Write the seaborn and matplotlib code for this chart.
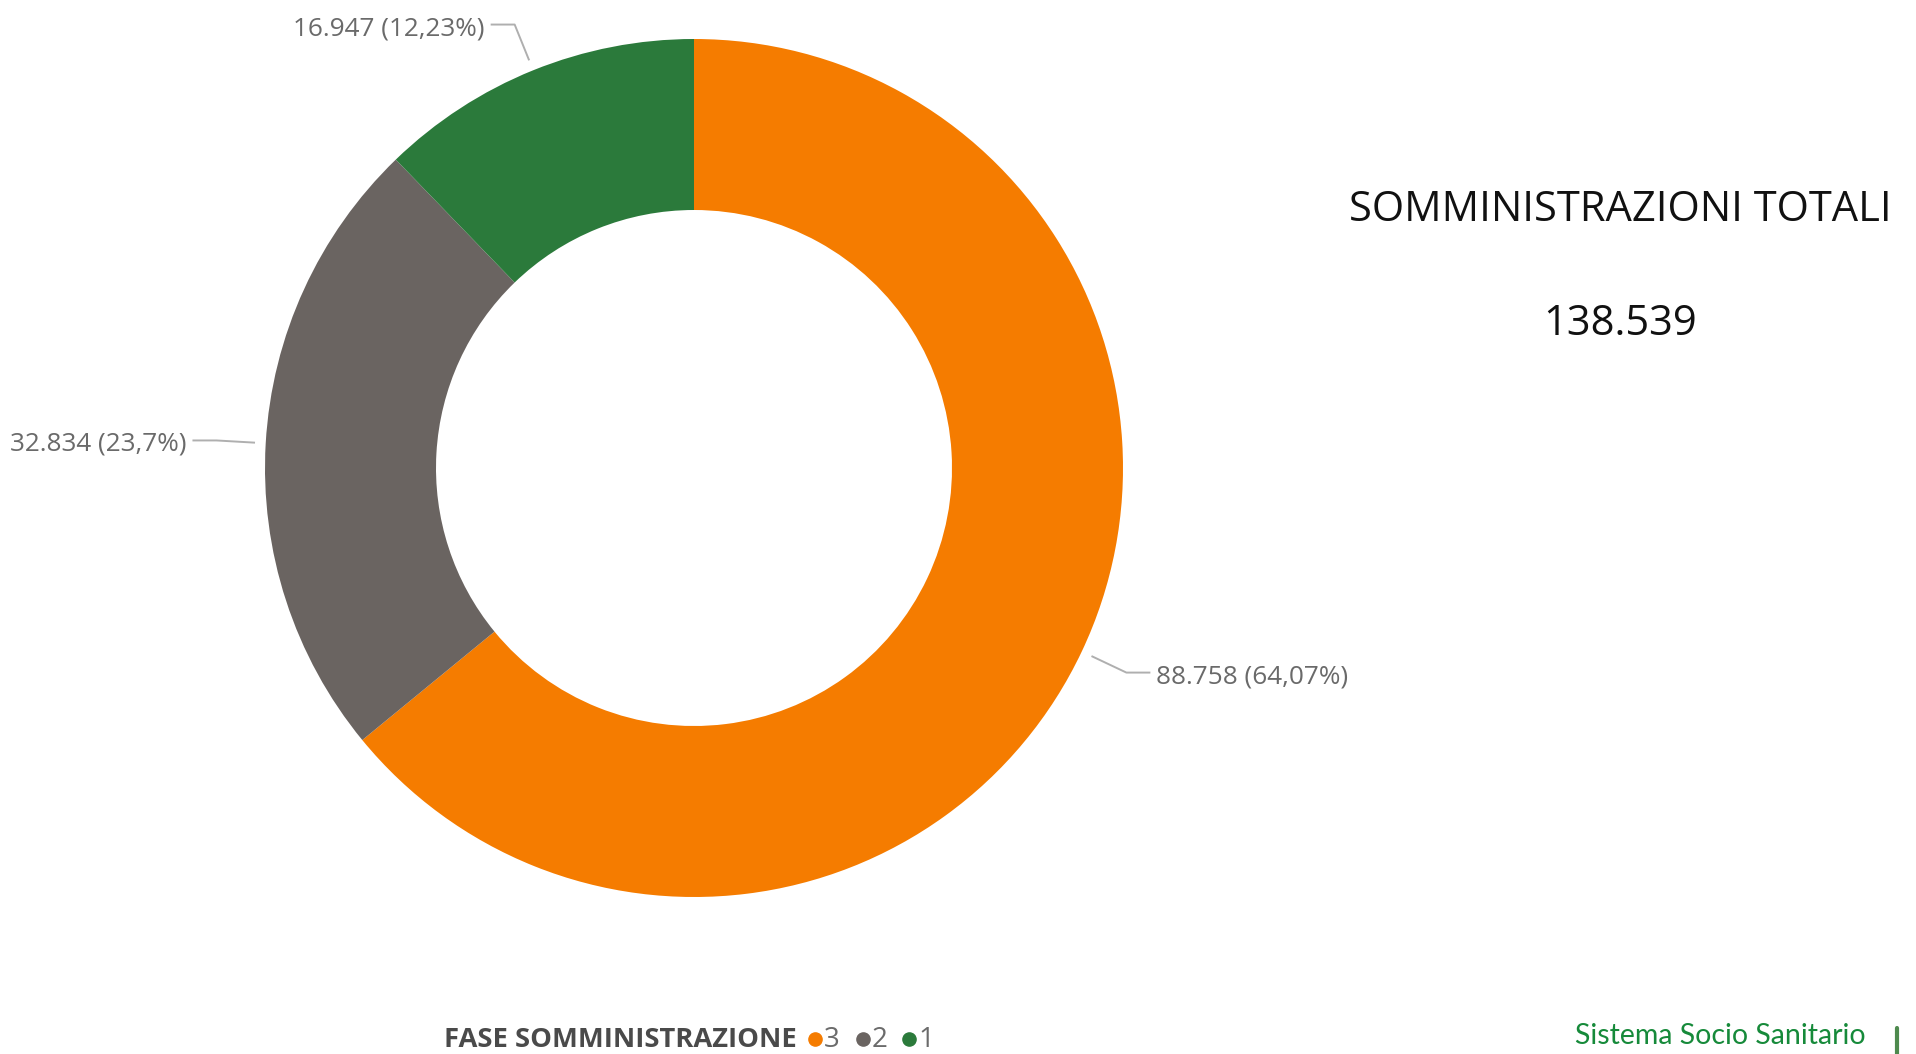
import numpy as np
import matplotlib
matplotlib.use("Agg")
import matplotlib.pyplot as plt
import seaborn as sns
from matplotlib.lines import Line2D

# ---- data ----
fasi = ["3", "2", "1"]
valori = [88758, 32834, 16947]
colori = ["#F57C00", "#6A6461", "#2B7A3B"]
titolo = "SOMMINISTRAZIONI TOTALI"
legenda_titolo = "FASE SOMMINISTRAZIONE"
marchio = "Sistema Socio Sanitario"

sns.set_theme(style="white")
plt.rcParams['font.family'] = ["Open Sans", "DejaVu Sans"]

W, H = 1916, 1054
fig = plt.figure(figsize=(W / 100, H / 100), dpi=100)
ax = fig.add_axes([0, 0, 1, 1])
palette = sns.color_palette(colori)

def Y(y):
    return H - y

cx, cy, R = 694, Y(468), 429
ring = 171
wedges, _ = ax.pie(valori, colors=palette, startangle=90, counterclock=False,
                   center=(cx, cy), radius=R,
                   wedgeprops=dict(width=ring, linewidth=0))
ax.set_xlim(0, W)
ax.set_ylim(0, H)
ax.set_aspect('equal')
ax.axis('off')

total = sum(valori)

def fmt_int(v):
    return f"{v:,}".replace(",", ".")

def fmt_pct(p):
    s = f"{p:.2f}".rstrip('0').rstrip('.')
    return s.replace('.', ',') + "%"

line_col = "#AFAFAF"
for w, v in zip(wedges, valori):
    ang = np.deg2rad((w.theta1 + w.theta2) / 2)
    ca, sa = np.cos(ang), np.sin(ang)
    p0 = (cx + 1.025 * R * ca, cy + 1.025 * R * sa)
    p1 = (cx + 1.115 * R * ca, cy + 1.115 * R * sa)
    side = 1 if ca > 0 else -1
    p2 = (p1[0] + side * 24, p1[1])
    ax.plot([p0[0], p1[0], p2[0]], [p0[1], p1[1], p2[1]], color=line_col, lw=1.4,
            solid_capstyle='butt')
    lab = f"{fmt_int(v)} ({fmt_pct(v / total * 100)})"
    ax.text(p2[0] + side * 6, p2[1] - 4, lab, ha='left' if side > 0 else 'right',
            va='center', fontsize=18.8, color="#6A6A6A")

# title and total
ax.text(1620, Y(210), titolo, ha='center', va='center', fontsize=30, color="#111111")
ax.text(1620, Y(324), fmt_int(total), ha='center', va='center', fontsize=30, color="#111111")

# legend
base = Y(1047)
ax.text(444, base, legenda_titolo, ha='left', va='baseline', fontsize=19.7,
        fontweight='bold', color="#4A4A4A")
lx = [815, 863, 909]
for x, c, f in zip(lx, palette, fasi):
    ax.add_line(Line2D([x], [Y(1039)], marker='o', markersize=9.5, color=c, linestyle='none'))
    ax.text(x + 9, base, f, ha='left', va='baseline', fontsize=20, color="#6B6B6B")

# brand
ax.text(1866, Y(1036), marchio, ha='right', va='center', fontsize=20.5,
        color="#168A3A", family=["Lato", "DejaVu Sans"])
ax.plot([1897, 1897], [Y(1028), Y(1054)], color="#4E8A4E", lw=3)

fig.savefig("out.png", dpi=100)
